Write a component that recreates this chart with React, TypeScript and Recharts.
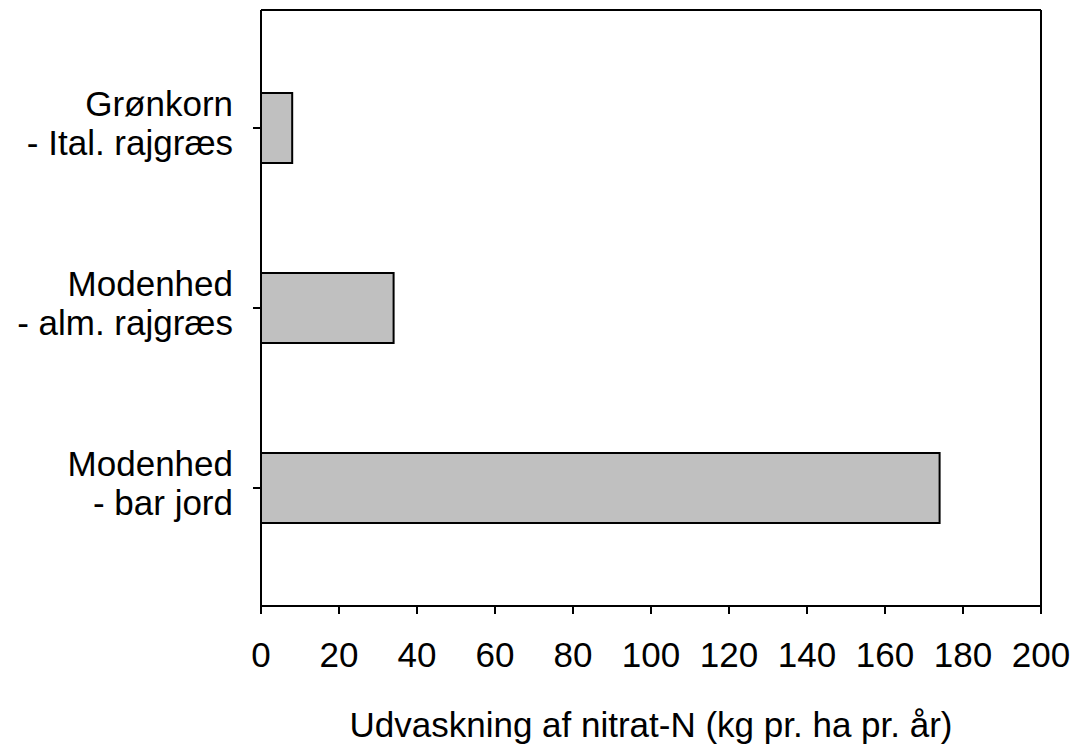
import { BarChart, Bar, XAxis, YAxis, Label, CartesianGrid } from "recharts";

// categories top to bottom, each label is two lines split on "\n"
const categories = ["Grønkorn\n- Ital. rajgræs", "Modenhed\n- alm. rajgræs", "Modenhed\n- bar jord"];
const leaching = [8, 34, 174];
const xTicks = [0, 20, 40, 60, 80, 100, 120, 140, 160, 180, 200];
const xTitle = "Udvaskning af nitrat-N (kg pr. ha pr. år)";

const data = categories.map((name, i) => ({ name, value: leaching[i] }));

const FONT = "'Liberation Sans', Arial, Helvetica, sans-serif";

function CategoryTick({ x, y, payload }: any) {
  const lines = String(payload.value).split("\n");
  return (
    <text x={x} y={y} textAnchor="end" fontFamily={FONT} fontSize={35} fill="#000">
      <tspan x={x} y={y - 12}>{lines[0]}</tspan>
      <tspan x={x} y={y + 27}>{lines[1]}</tspan>
    </text>
  );
}

function XTitle({ viewBox }: any) {
  const vb = viewBox || { x: 261, y: 606, width: 780 };
  return (
    <text x={vb.x + vb.width / 2} y={vb.y + 131} textAnchor="middle" fontFamily={FONT} fontSize={35} fill="#000">
      {xTitle}
    </text>
  );
}

export default function App() {
  return (
    <div style={{ width: 1074, height: 747, background: "#fff" }}>
      <style>{`body{margin:0;}`}</style>
      <BarChart
        width={1074}
        height={747}
        data={data}
        layout="vertical"
        margin={{ top: 10, right: 33, bottom: 41, left: 0 }}
      >
        {/* top and right frame lines of the plot area */}
        <CartesianGrid
          stroke="#000"
          strokeWidth={2}
          horizontalCoordinatesGenerator={({ offset }: any) => [offset.top]}
          verticalCoordinatesGenerator={({ offset }: any) => [offset.left + offset.width]}
        />
        <XAxis
          type="number"
          domain={[0, 200]}
          ticks={xTicks}
          interval={0}
          height={100}
          axisLine={{ stroke: "#000", strokeWidth: 2 }}
          tickLine={{ stroke: "#000", strokeWidth: 2 }}
          tickSize={8}
          tickMargin={28}
          tick={{ fill: "#000", fontSize: 35, fontFamily: FONT }}
        >
          <Label content={<XTitle />} />
        </XAxis>
        <YAxis
          type="category"
          dataKey="name"
          width={261}
          padding={{ top: 28, bottom: 28 }}
          axisLine={{ stroke: "#000", strokeWidth: 2 }}
          tickLine={{ stroke: "#000", strokeWidth: 2 }}
          tickSize={8}
          tickMargin={20}
          interval={0}
          tick={<CategoryTick />}
        />
        <Bar dataKey="value" barSize={70} fill="#c0c0c0" stroke="#000" strokeWidth={2} isAnimationActive={false} />
      </BarChart>
    </div>
  );
}
